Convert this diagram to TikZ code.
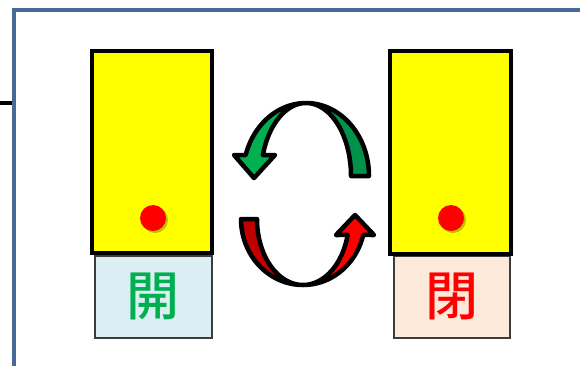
\documentclass[tikz,border=0pt]{standalone}
\usepackage{fontspec}
\newfontfamily\cjk{Noto Sans CJK JP}[UprightFont={* Medium}]
\definecolor{framecol}{RGB}{72,106,152}
\definecolor{ylw}{RGB}{255,255,0}
\definecolor{ltblue}{RGB}{219,238,243}
\definecolor{ltpeach}{RGB}{253,233,217}
\definecolor{grnL}{RGB}{0,176,80}
\definecolor{grnR}{RGB}{0,145,74}
\definecolor{redL}{RGB}{192,0,0}
\definecolor{redR}{RGB}{255,0,0}
\definecolor{txtgreen}{RGB}{0,176,80}
\definecolor{txtred}{RGB}{255,0,0}
\definecolor{boxline}{RGB}{60,60,60}
\tikzset{
  panel/.style={draw=black, line width=4pt, fill=ylw},
  labelbox/.style={draw=boxline, line width=1.5pt, minimum width=117pt, minimum height=82pt, inner sep=0pt, anchor=north west, font=\cjk\fontsize{53}{53}\selectfont},
  dotmark/.style={fill=redR},
  dotshadow/.style={fill=black, opacity=0.25},
  arrowline/.style={draw=black, line width=4.5pt, line join=round}
}
\begin{document}
\begin{tikzpicture}[x=1pt,y=-1pt]
\useasboundingbox (0,0) rectangle (580,365);
% frame
\draw[framecol, line width=4pt] (13.5,370) -- (13.5,9.5) -- (585,9.5);
\coordinate (lineA) at (0,103);
\coordinate (lineB) at (12,103);
\draw[black, line width=3.5pt] (lineA) -- (lineB);
% label boxes
\node[labelbox, fill=ltblue, text=txtgreen] (openbox) at (94,255) {開};
\node[labelbox, fill=ltpeach, text=txtred, minimum width=116pt] (closebox) at (393,255) {閉};
% yellow panels
\draw[panel] (92,51) rectangle (212,253);
\draw[panel] (390,51) rectangle (511,254);
% dots
\fill[dotshadow] (155,220) circle (13);
\fill[dotmark] (153,218) circle (13);
\fill[dotshadow] (453,220) circle (13);
\fill[dotmark] (451,218) circle (13);
% green arrow
\def\greenpath{(369,176) -- plot[domain=0:163.3, samples=60] ({306+63*cos(\x)},{176-73*sin(\x)}) -- (234,155) -- (254,178) -- (275,155) -- plot[domain=163.3:0, samples=60] ({306+45*cos(\x)},{176-73*sin(\x)}) -- cycle}
\fill[grnL] \greenpath;
\begin{scope}
\clip (306,0) rectangle (580,365);
\fill[grnR] \greenpath;
\end{scope}
\draw[arrowline] \greenpath;
% red arrow
\def\redpath{(241,219) -- plot[domain=180:14, samples=60] ({303+62*cos(\x)},{219+66*sin(\x)}) -- (374,235) -- (355,215) -- (336,235) -- plot[domain=14:180, samples=60] ({303+46*cos(\x)},{219+66*sin(\x)}) -- cycle}
\fill[redL] \redpath;
\begin{scope}
\clip (303,0) rectangle (580,365);
\fill[redR] \redpath;
\end{scope}
\draw[arrowline] \redpath;
\end{tikzpicture}
\end{document}
